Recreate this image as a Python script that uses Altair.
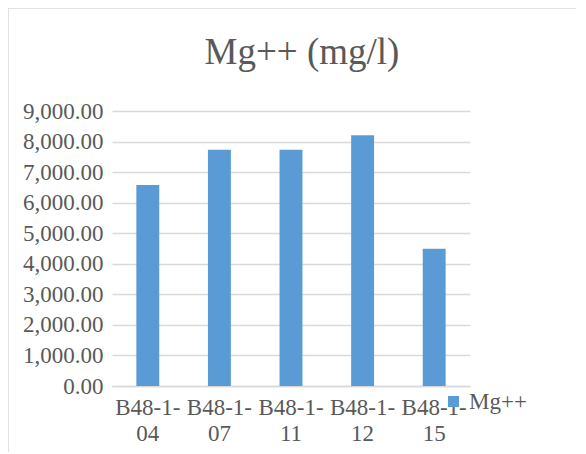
import altair as alt
import pandas as pd

categories = ["B48-1-04", "B48-1-07", "B48-1-11", "B48-1-12", "B48-1-15"]
values = [6580, 7730, 7730, 8210, 4490]
series = ["Mg++"] * 5
y_ticks = [0, 1000, 2000, 3000, 4000, 5000, 6000, 7000, 8000, 9000]

df = pd.DataFrame({"sample": categories, "value": values, "series": series})

FONT = "Liberation Serif"
GRAY = "#595959"

frame = alt.Chart(pd.DataFrame({"a": [0]})).mark_rect(
    fillOpacity=0, stroke="#d9d9d9", strokeWidth=1.5
).encode(
    x=alt.value(-104), x2=alt.value(480), y=alt.value(-103), y2=alt.value(360)
)

bars = alt.Chart(df).mark_bar(color="#5b9bd5").encode(
    x=alt.X("sample:N", sort=categories, title=None,
            scale=alt.Scale(paddingInner=0.68, paddingOuter=0.34),
            axis=alt.Axis(labelAngle=0, labelFont=FONT, labelFontSize=23, labelColor=GRAY,
                          labelExpr="[slice(datum.label,0,6), slice(datum.label,6)]",
                          labelLineHeight=26, labelPadding=10, ticks=False,
                          domainColor="#d9d9d9", domainWidth=1.5, labelOverlap=False)),
    y=alt.Y("value:Q", title=None,
            scale=alt.Scale(domain=[0, 9000], nice=False),
            axis=alt.Axis(values=y_ticks, format=",.2f", labelFont=FONT, labelFontSize=23,
                          labelColor=GRAY, ticks=False, domain=False, gridColor="#d9d9d9",
                          gridWidth=1.5, labelPadding=9)),
    color=alt.Color("series:N", title=None,
                    scale=alt.Scale(range=["#5b9bd5"]),
                    legend=alt.Legend(orient="none", legendX=330, legendY=279,
                                      symbolType="square", symbolSize=121,
                                      labelFont=FONT, labelFontSize=23, labelColor=GRAY,
                                      padding=0, symbolStrokeWidth=0)),
)

chart = alt.layer(frame, bars).properties(
    width=358, height=275,
    title=alt.Title("Mg++ (mg/l)", font=FONT, fontSize=37, fontWeight="normal",
                    color=GRAY, offset=-65, dx=11),
    autosize=alt.AutoSizeParams(type="none"),
    padding={"left": 104, "top": 103, "right": 106, "bottom": 66},
).configure_view(stroke=None)

chart.save("out.html", embed_options={"renderer": "svg", "actions": False})
